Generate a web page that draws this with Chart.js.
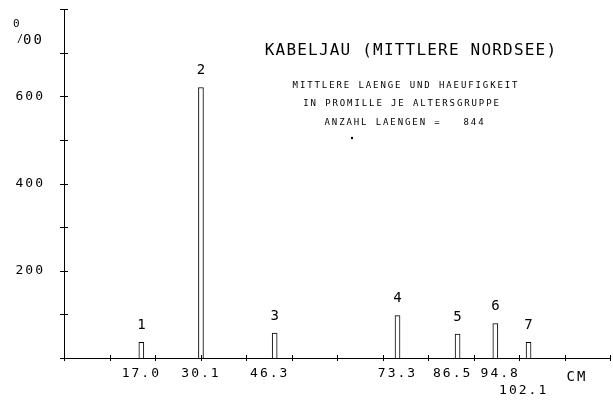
<!DOCTYPE html>
<html><head><meta charset="utf-8">
<script src="https://cdn.jsdelivr.net/npm/chart.js@4"></script>
<style>html,body{margin:0;padding:0;background:#fff}</style>
</head><body>
<canvas id="c" width="613" height="403"></canvas>
<script>
// ---- data ----
const ageGroups   = ['1', '2', '3', '4', '5', '6', '7'];
const meanLengths = [17.0, 30.1, 46.3, 73.3, 86.5, 94.8, 102.1];
const perMille    = [36, 620, 57, 97, 55, 79, 36];
const xTickLabels = ['17.0', '30.1', '46.3 ', '73.3', '86.5 ', ' 94.8', ['', '102.1 ']];
const xTickMarks  = [0, 10, 20, 30, 40, 50, 60, 70, 80, 90, 100, 110, 120];
const yTickValues = [200, 400, 600];
const yTickLabels = ['200', '400', '600'];
const yTickMarks  = [0, 100, 200, 300, 400, 500, 600, 700, 800];
const xUnit = 'CM';
const titleText = 'KABELJAU (MITTLERE NORDSEE)';
const subtitleLines = ['MITTLERE LAENGE UND HAEUFIGKEIT', 'IN PROMILLE JE ALTERSGRUPPE', 'ANZAHL LAENGEN =   844'];

const FONT = "'DejaVu Sans Mono', 'Liberation Mono', monospace";
Chart.defaults.font.family = FONT;
Chart.defaults.color = '#000';

const decor = {
  id: 'decor',
  beforeDraw(chart) {
    chart.ctx.letterSpacing = '2px';
  },
  afterDraw(chart) {
    const ctx = chart.ctx;
    const xs = chart.scales.x, ys = chart.scales.y;
    ctx.save();
    ctx.strokeStyle = '#000';
    ctx.lineWidth = 1;
    // tick crosses
    const y0 = ys.getPixelForValue(0);
    const x0 = xs.getPixelForValue(0);
    ctx.beginPath();
    xTickMarks.forEach(v => {
      const px = Math.round(xs.getPixelForValue(v)) + 0.5;
      ctx.moveTo(px, y0 - 3); ctx.lineTo(px, y0 + 3);
    });
    yTickMarks.forEach(v => {
      const py = Math.round(ys.getPixelForValue(v)) + 0.5;
      ctx.moveTo(x0 - 4, py); ctx.lineTo(x0 + 4, py);
    });
    ctx.stroke();

    ctx.fillStyle = '#000';
    ctx.textAlign = 'center';
    ctx.textBaseline = 'middle';
    // bar numbers
    ctx.font = '14px ' + FONT;
    ctx.letterSpacing = '0px';
    const meta = chart.getDatasetMeta(0);
    meta.data.forEach((bar, i) => {
      ctx.fillText(ageGroups[i], bar.x, bar.y - 17);
    });
    // x unit
    ctx.font = '14px ' + FONT;
    ctx.letterSpacing = '2px';
    ctx.fillText(xUnit, xs.getPixelForValue(112.5) + 1, y0 + 19);
    // per mille unit
    ctx.textAlign = 'left';
    ctx.letterSpacing = '0px';
    ctx.font = '11px ' + FONT;
    ctx.fillText('0', 13, 24);
    ctx.font = '10px ' + FONT;
    ctx.fillText('/', 17, 39);
    ctx.font = '14px ' + FONT;
    ctx.letterSpacing = '2px';
    ctx.fillText('00', 23, 40);
    // titles
    ctx.textAlign = 'center';
    ctx.font = '16px ' + FONT;
    ctx.letterSpacing = '1.2px';
    ctx.fillText(titleText, 411, 51);
    ctx.font = '9px ' + FONT;
    ctx.letterSpacing = '1.9px';
    const subY = [86, 104, 123];
    const subX = [406, 402, 405];
    subtitleLines.forEach((t, i) => ctx.fillText(t, subX[i], subY[i]));
    ctx.beginPath();
    ctx.arc(352, 138, 1.2, 0, Math.PI * 2);
    ctx.fill();
    ctx.restore();
  }
};

new Chart(document.getElementById('c'), {
  type: 'bar',
  data: {
    datasets: [{
      data: meanLengths.map((x, i) => ({ x: x, y: perMille[i] })),
      backgroundColor: '#fff',
      borderColor: '#000',
      borderWidth: 1,
      barThickness: 5
    }]
  },
  options: {
    responsive: false,
    animation: false,
    devicePixelRatio: 1,
    layout: { padding: { top: 9, right: 3, left: 0, bottom: 0 } },
    plugins: { legend: { display: false }, tooltip: { enabled: false } },
    scales: {
      x: {
        type: 'linear',
        offset: false,
        min: 0, max: 120,
        afterBuildTicks: s => { s.ticks = meanLengths.map(v => ({ value: v })); },
        afterFit: s => { s.height = 45; s.paddingLeft = 0; s.paddingRight = 0; },
        grid: { display: false, drawTicks: false, offset: false },
        border: { display: true, color: '#000', width: 1 },
        ticks: {
          autoSkip: false, maxRotation: 0, padding: 7,
          font: { size: 13, lineHeight: 1.3 },
          callback: (v, i) => xTickLabels[i]
        }
      },
      y: {
        min: 0, max: 800,
        afterBuildTicks: s => { s.ticks = yTickValues.map(v => ({ value: v })); },
        afterFit: s => { s.width = 64; s.paddingTop = 0; s.paddingBottom = 0; },
        grid: { display: false, drawTicks: false },
        border: { display: true, color: '#000', width: 1 },
        ticks: {
          padding: 19,
          font: { size: 13 },
          callback: (v, i) => yTickLabels[i]
        }
      }
    }
  },
  plugins: [decor]
});
</script>
</body></html>
